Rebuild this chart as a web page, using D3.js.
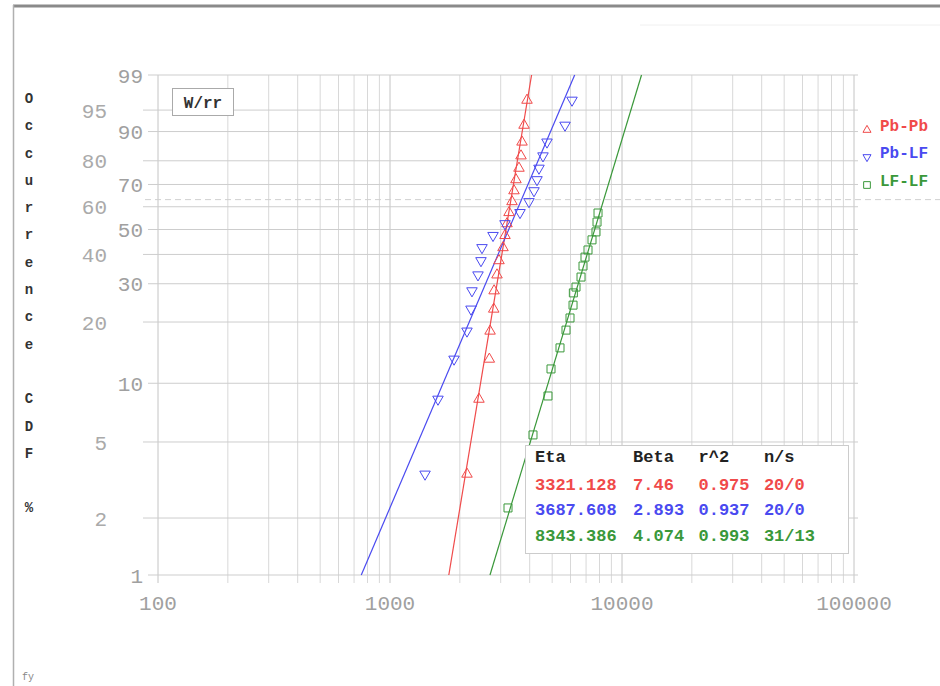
<!DOCTYPE html>
<html>
<head>
<meta charset="utf-8">
<script src="https://cdn.jsdelivr.net/npm/d3@7"></script>
<style>
body { margin: 0; background: #fff; }
svg { display: block; }
text { font-family: "Liberation Mono", "DejaVu Sans Mono", monospace; }
</style>
</head>
<body>
<div id="chart"></div>
<script>
// axis ticks
var yTicksRight = [99, 90, 70, 50, 30, 10, 1];
var yTicksLeft = [95, 80, 60, 40, 20, 5, 2];
var xTickLabels = [100, 1000, 10000, 100000];

// fitted parameters (stats box)
var seriesNames = ["Pb-Pb", "Pb-LF", "LF-LF"];
var etas = [3321.128, 3687.608, 8343.386];
var betas = [7.46, 2.893, 4.074];
var r2s = [0.975, 0.937, 0.993];
var nsLabels = ["20/0", "20/0", "31/13"];

// points: time, occurrence %
var pbpbTime = [2147, 2418, 2680, 2700, 2800, 2810, 2892, 2950, 3069, 3131, 3194, 3259, 3356, 3423, 3491, 3597, 3670, 3707, 3782, 3895];
var pbpbF = [3.4, 8.3, 13.2, 18.1, 23.0, 27.9, 32.8, 37.7, 42.6, 47.5, 52.5, 57.4, 62.3, 67.2, 72.1, 77.0, 81.9, 86.8, 91.7, 96.6];
var pblfTime = [1416, 1610, 1888, 2147, 2234, 2256, 2395, 2467, 2492, 2780, 3131, 3634, 3972, 4175, 4301, 4387, 4565, 4750, 5681, 6088];
var pblfF = [3.4, 8.3, 13.2, 18.1, 23.0, 27.9, 32.8, 37.7, 42.6, 47.5, 52.5, 57.4, 62.3, 67.2, 72.1, 77.0, 81.9, 86.8, 91.7, 96.6];
var lflfTime = [3226, 4134, 4797, 4943, 5405, 5737, 5969, 6151, 6170, 6335, 6658, 6791, 6927, 7136, 7425, 7725, 7804, 7882];
var lflfF = [2.26, 5.44, 8.62, 11.8, 15.0, 18.3, 20.9, 24.0, 27.3, 29.0, 32.1, 35.8, 39.0, 41.7, 45.7, 49.0, 53.2, 57.2];

var colors = ["#f04a4a", "#4a4af0", "#3a983a"];
var symbols = [d3.symbolTriangle, d3.symbolTriangle, d3.symbolSquare];

var W = 940, H = 686;
var plotL = 158, plotR = 854, plotT = 75, plotB = 575;

var svg = d3.select("#chart").append("svg")
    .attr("width", W)
    .attr("height", H)
    .style("background-color", "white");

// weibull probability transform
function wb(p) { return Math.log(-Math.log(1 - p / 100)); }

var x = d3.scaleLog().domain([100, 100000]).range([plotL, plotR]);
var y = d3.scaleLinear().domain([wb(1), wb(99)]).range([plotB, plotT]);

// outer frame
svg.append("line").attr("x1", 13).attr("x2", W).attr("y1", 6).attr("y2", 6)
    .attr("stroke", "#8a8a8a").attr("stroke-width", 3);
svg.append("line").attr("x1", 13.5).attr("x2", 13.5).attr("y1", 5).attr("y2", H)
    .attr("stroke", "#b0b0b0").attr("stroke-width", 1.5);
svg.append("line").attr("x1", 640).attr("x2", W).attr("y1", 25).attr("y2", 25)
    .attr("stroke", "#f0f0f0");

// vertical grid
var grid = svg.append("g");
grid.selectAll("line.v")
    .data(x.ticks())
    .enter().append("line")
    .attr("class", "v")
    .attr("x1", d => x(d)).attr("x2", d => x(d))
    .attr("y1", plotT).attr("y2", plotB + 8)
    .attr("stroke", d => xTickLabels.indexOf(d) >= 0 ? "#c4c4c4" : "#d8d8d8")
    .attr("stroke-width", 1);

// horizontal grid
var yTicks = yTicksRight.concat(yTicksLeft);
grid.selectAll("line.h")
    .data(yTicks)
    .enter().append("line")
    .attr("class", "h")
    .attr("x1", d => yTicksLeft.indexOf(d) >= 0 ? 143 : 148)
    .attr("x2", plotR + 4)
    .attr("y1", d => y(wb(d))).attr("y2", d => y(wb(d)))
    .attr("stroke", "#cdcdcd");

// 63.2% line
grid.append("line")
    .attr("x1", 145).attr("x2", W)
    .attr("y1", y(0)).attr("y2", y(0))
    .attr("stroke", "#d0d0d0")
    .attr("stroke-dasharray", "6,4");

// y tick labels, two staggered columns
svg.selectAll("text.yr")
    .data(yTicksRight)
    .enter().append("text")
    .attr("x", 143)
    .attr("y", d => y(wb(d)))
    .attr("dy", "0.36em")
    .attr("text-anchor", "end")
    .attr("font-size", 21)
    .attr("fill", "#a0a0a0")
    .text(d => d);
svg.selectAll("text.yl")
    .data(yTicksLeft)
    .enter().append("text")
    .attr("x", 107)
    .attr("y", d => y(wb(d)))
    .attr("dy", "0.36em")
    .attr("text-anchor", "end")
    .attr("font-size", 21)
    .attr("fill", "#aaa")
    .text(d => d);

// x tick labels
svg.selectAll("text.x")
    .data(xTickLabels)
    .enter().append("text")
    .attr("x", d => x(d))
    .attr("y", 610)
    .attr("text-anchor", "middle")
    .attr("font-size", 21)
    .attr("fill", "#a0a0a0")
    .text(d => d);

// y title, one letter per row
var title = "Occurrence CDF %".split("");
svg.selectAll("text.title")
    .data(title)
    .enter().append("text")
    .attr("x", 29)
    .attr("y", (d, i) => 98 + i * 27.3)
    .attr("dy", "0.35em")
    .attr("text-anchor", "middle")
    .attr("font-size", 14)
    .attr("font-weight", "bold")
    .attr("fill", "#333")
    .text(d => d);

svg.append("text").attr("x", 22).attr("y", 680)
    .attr("font-size", 10).attr("fill", "#888").text("fy");

// fit lines
var fits = svg.append("g");
seriesNames.forEach(function(name, i) {
    var ends = [1, 99].map(function(p) {
        return [etas[i] * Math.pow(-Math.log(1 - p / 100), 1 / betas[i]), p];
    });
    fits.append("line")
        .attr("x1", x(ends[0][0])).attr("y1", y(wb(ends[0][1])))
        .attr("x2", x(ends[1][0])).attr("y2", y(wb(ends[1][1])))
        .attr("stroke", colors[i])
        .attr("stroke-width", 1.2);
});

// points
var allTime = [pbpbTime, pblfTime, lflfTime];
var allF = [pbpbF, pblfF, lflfF];
seriesNames.forEach(function(name, i) {
    var pts = allTime[i].map((t, j) => [t, allF[i][j]]);
    var sym = d3.symbol().type(symbols[i]).size(i == 2 ? 64 : 48);
    svg.append("g").selectAll("path")
        .data(pts)
        .enter().append("path")
        .attr("d", sym)
        .attr("transform", function(d) {
            return "translate(" + x(d[0]) + "," + y(wb(d[1])) + ")" + (i == 1 ? " rotate(180)" : "");
        })
        .attr("fill", "none")
        .attr("stroke", colors[i])
        .attr("stroke-width", 1);
});

// W/rr box
svg.append("rect").attr("x", 172.5).attr("y", 88.5).attr("width", 61).attr("height", 27)
    .attr("fill", "white").attr("stroke", "#aaa");
svg.append("text").attr("x", 203).attr("y", 102).attr("dy", "0.35em")
    .attr("text-anchor", "middle").attr("font-size", 16).attr("font-weight", "bold")
    .attr("fill", "#333").text("W/rr");

// right legend
var legend = svg.append("g");
seriesNames.forEach(function(name, i) {
    var ly = [127, 154, 182][i];
    legend.append("path")
        .attr("d", d3.symbol().type(symbols[i]).size(i == 2 ? 45 : 28))
        .attr("transform", "translate(867," + (ly + 3) + ")" + (i == 1 ? " rotate(180)" : ""))
        .attr("fill", "none")
        .attr("stroke", colors[i]);
    legend.append("text")
        .attr("x", 880).attr("y", ly - 2).attr("dy", "0.35em")
        .attr("font-size", 16).attr("font-weight", "bold")
        .attr("fill", colors[i])
        .text(name);
});

// stats box
var bx = 525, by = 445;
svg.append("rect").attr("x", bx + 0.5).attr("y", by + 0.5).attr("width", 323).attr("height", 108)
    .attr("fill", "white").attr("stroke", "#ccc");
var cw = 10.9;
var colX = [535, 535 + 9 * cw, 535 + 15 * cw, 535 + 21 * cw];
var header = ["Eta", "Beta", "r^2", "n/s"];
header.forEach(function(h, k) {
    svg.append("text").attr("x", colX[k]).attr("y", 456).attr("dy", "0.35em")
        .attr("font-size", 17).attr("font-weight", "bold").attr("fill", "#222").text(h);
});
seriesNames.forEach(function(name, i) {
    var row = [etas[i].toFixed(3), String(betas[i]), r2s[i].toFixed(3), nsLabels[i]];
    row.forEach(function(v, k) {
        svg.append("text").attr("x", colX[k]).attr("y", 484 + i * 25.5).attr("dy", "0.35em")
            .attr("font-size", 17).attr("font-weight", "bold").attr("fill", colors[i]).text(v);
    });
});
</script>
</body>
</html>
